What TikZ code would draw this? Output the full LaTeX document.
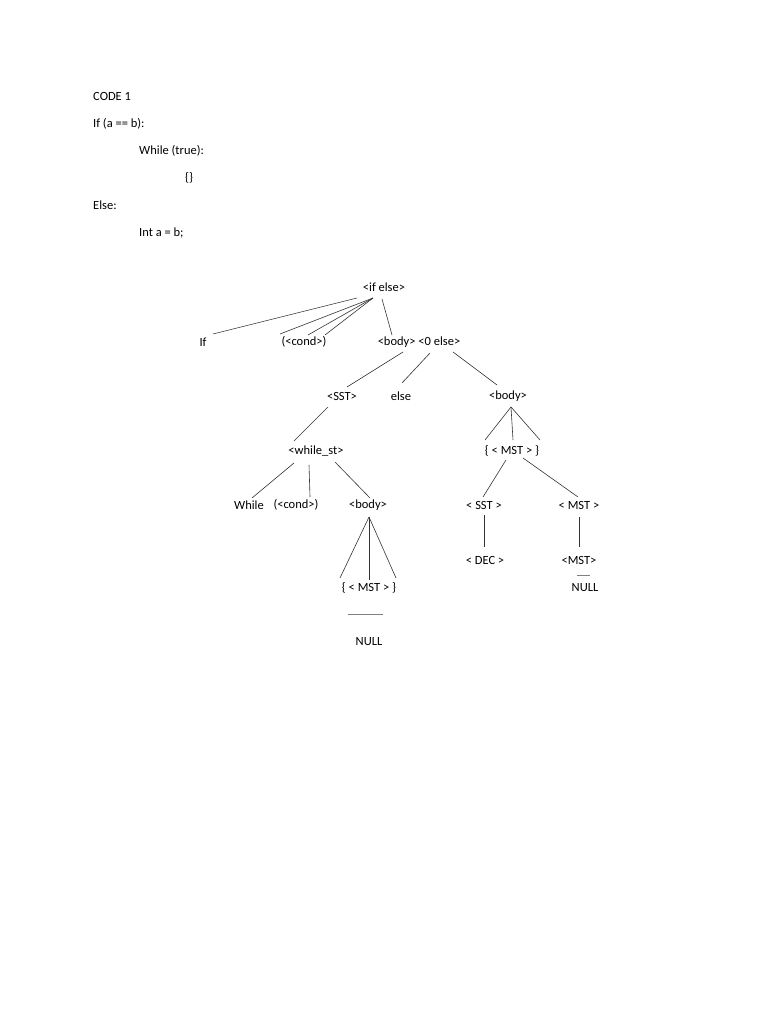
\documentclass[tikz,border=0pt]{standalone}
\usepackage{fontspec}
\setmainfont{Carlito}
\usetikzlibrary{calc}
\begin{document}
\begin{tikzpicture}[x=1pt,y=-1pt,
  lbl/.style={inner sep=0pt,font=\fontsize{12.5}{15}\selectfont},
  txt/.style={lbl,anchor=west},
  edge/.style={draw=black!80,line width=0.6pt}]
\useasboundingbox (0,0) rectangle (768,1024);
\node[txt] (c1) at (93,96) {CODE 1};
\node[txt] (c2) at (93,124) {If (a == b):};
\node[txt] (c3) at (139,151) {While (true):};
\node[txt] (c4) at (185,178) {\{\}};
\node[txt] (c5) at (93,205) {Else:};
\node[txt] (c6) at (139,233) {Int a = b;};

\node[lbl] (root) at (384,287) {<if else>};
\node[lbl] (if) at (203,342) {If};
\node[lbl] (cond) at (304,342) {(<cond>)};
\node[lbl] (bodyelse) at (419,342) {<body> <0 else>};
\node[lbl] (sst) at (342,396) {<SST>};
\node[lbl] (else) at (401,396) {else};
\node[lbl] (body2) at (508,396) {<body>};
\node[lbl] (while) at (316,451) {<while\_st>};
\node[lbl] (mst2) at (512,451) {\{ < MST > \}};
\node[lbl] (wh) at (249,505) {While};
\node[lbl] (cond2) at (296,505) {(<cond>)};
\node[lbl] (body1) at (368,505) {<body>};
\node[lbl] (sst2) at (484,505) {< SST >};
\node[lbl] (mst3) at (579,505) {< MST >};
\node[lbl] (dec) at (485,560) {< DEC >};
\node[lbl] (mst4) at (579,560) {<MST>};
\node[lbl] (mst1) at (369,588) {\{ < MST > \}};
\node[lbl] (null2) at (585,588) {NULL};
\node[lbl] (null1) at (369,642) {NULL};

\draw[edge] ($(root)+(-27,11)$) -- ($(if)+(10,-8)$);
\draw[edge] ($(root)+(-11,11)$) -- ($(cond)+(-24,-8)$);
\draw[edge] ($(root)+(-11,11)$) -- ($(cond)+(4,-7)$);
\draw[edge] ($(root)+(-11,11)$) -- ($(cond)+(21,-7)$);
\draw[edge] ($(root)+(-2,12)$) -- ($(bodyelse)+(-27,-7)$);
\draw[edge] ($(bodyelse)+(-16,10)$) -- ($(sst)+(5,-9)$);
\draw[edge] ($(bodyelse)+(11,11)$) -- ($(else)+(1,-13)$);
\draw[edge] ($(bodyelse)+(34,10)$) -- ($(body2)+(-11,-11)$);
\draw[edge] ($(sst)+(-14,11)$) -- ($(while)+(-22,-10)$);
\draw[edge] ($(body2)+(3,11)$) -- ($(mst2)+(-27,-11)$);
\draw[edge] ($(body2)+(3,11)$) -- ($(mst2)+(1,-11)$);
\draw[edge] ($(body2)+(3,11)$) -- ($(mst2)+(28,-11)$);
\draw[edge] ($(while)+(-22,12)$) -- ($(wh)+(3,-7)$);
\draw[edge] ($(while)+(-7,14)$) -- ($(cond2)+(14,-8)$);
\draw[edge] ($(while)+(19,11)$) -- ($(body1)+(2,-7)$);
\draw[edge] ($(mst2)+(-6,9)$) -- ($(sst2)+(-1,-8)$);
\draw[edge] ($(mst2)+(11,7)$) -- ($(mst3)+(-1,-8)$);
\draw[edge] ($(sst2)+(0,10)$) -- ($(dec)+(-1,-13)$);
\draw[edge] ($(mst3)+(0,12)$) -- ($(mst4)+(0,-13)$);
\draw[edge] ($(body1)+(1,12)$) -- ($(mst1)+(-29,-10)$);
\draw[edge] ($(body1)+(1,12)$) -- ($(mst1)+(0,-8)$);
\draw[edge] ($(body1)+(1,12)$) -- ($(mst1)+(27,-10)$);
\draw[draw=black!50,line width=0.6pt] ($(mst1)+(-21,26)$) -- ($(mst1)+(14,26)$);
\draw[draw=black!50,line width=0.6pt] ($(mst4)+(-2,15)$) -- ($(mst4)+(11,15)$);
\end{tikzpicture}
\end{document}
